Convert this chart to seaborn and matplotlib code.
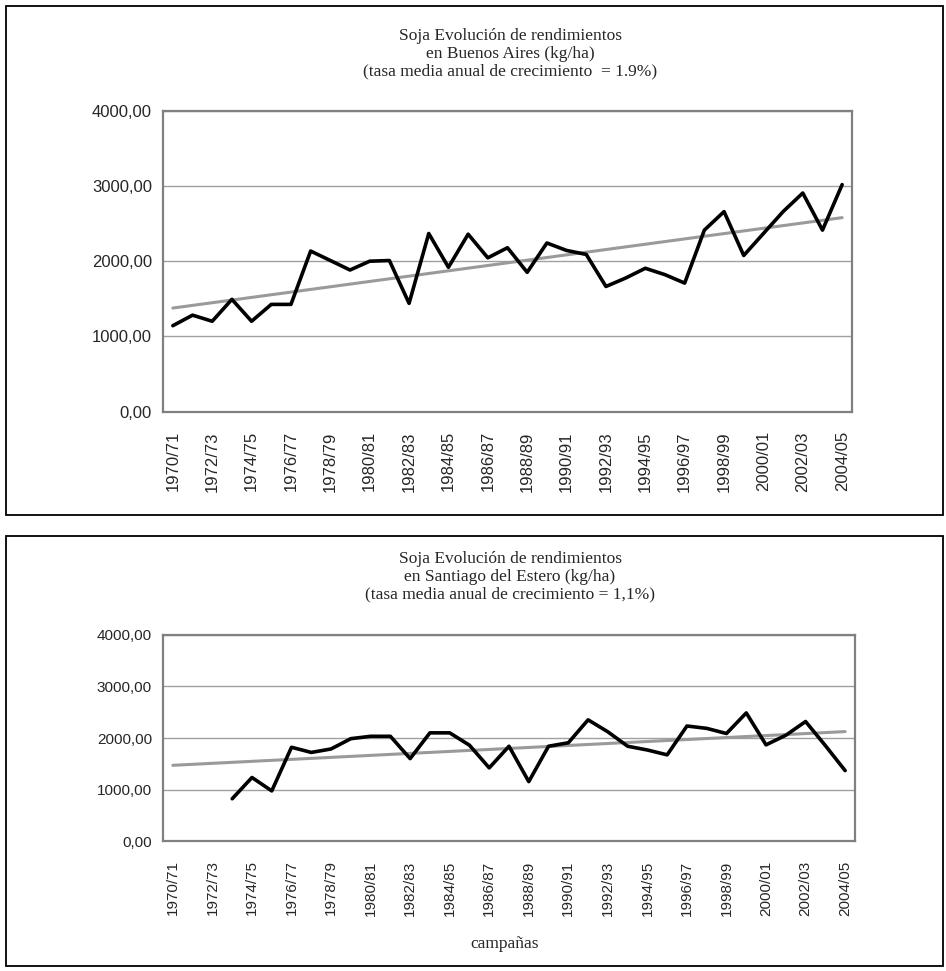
import numpy as np
import pandas as pd
import seaborn as sns
import matplotlib.pyplot as plt
from matplotlib.patches import Rectangle
from matplotlib.ticker import FuncFormatter, FixedLocator

# campañas 1970/71 .. 2004/05
campanas = ["%d/%02d" % (y, (y + 1) % 100) for y in range(1970, 2005)]

# rendimientos soja Buenos Aires (kg/ha)
bsas = [1143, 1283, 1202, 1493, 1202, 1426, 1426, 2135, 2009, 1883,
        2000, 2009, 1440, 2368, 1919, 2359, 2045, 2179, 1852, 2242,
        2143, 2090, 1664, 1776, 1906, 1821, 1709, 2413, 2659, 2076,
        2368, 2659, 2906, 2413, 3018]

# rendimientos soja Santiago del Estero (kg/ha), sin datos hasta 1973/74
sgo = [np.nan, np.nan, np.nan, 820, 1233, 973, 1820, 1720, 1787, 1987,
       2033, 2033, 1600, 2100, 2100, 1860, 1420, 1840, 1153, 1840,
       1907, 2353, 2120, 1840, 1767, 1673, 2233, 2187, 2087, 2487,
       1867, 2053, 2320, 1853, 1367]

titulos = [
    "Soja Evolución de rendimientos\nen Buenos Aires (kg/ha)\n(tasa media anual de crecimiento  = 1.9%)",
    "Soja Evolución de rendimientos\nen Santiago del Estero (kg/ha)\n(tasa media anual de crecimiento = 1,1%)",
]

sns.set_style("white")
plt.rcParams['font.family'] = ['Liberation Sans', 'DejaVu Sans']

W, H = 946, 971
fig = plt.figure(figsize=(W / 100, H / 100), dpi=100)


def fx(px):
    return px / W


def fy(py):
    return 1 - py / H


def box(x0, y0, x1, y1):
    fig.patches.append(Rectangle((fx(x0), fy(y1)), fx(x1) - fx(x0), fy(y0) - fy(y1),
                                 transform=fig.transFigure, fill=False,
                                 edgecolor="black", linewidth=1.3))


def panel(ax, valores, tick_size, xlabel_size):
    df = pd.DataFrame({"x": np.arange(len(campanas)), "y": valores})
    ok = df.dropna()
    # linea de tendencia lineal (como en Excel)
    m, b = np.polyfit(ok["x"], ok["y"], 1)
    df["trend"] = m * df["x"] + b
    sns.lineplot(data=df, x="x", y="trend", ax=ax, color="#9a9a9a", linewidth=2.2)
    sns.lineplot(data=df, x="x", y="y", ax=ax, color="black", linewidth=2.6)
    ax.set_xlim(-0.5, len(campanas) - 0.5)
    ax.set_ylim(0, 4000)
    ax.set_yticks([0, 1000, 2000, 3000, 4000])
    ax.yaxis.set_major_formatter(FuncFormatter(lambda v, p: ("%.2f" % v).replace(".", ",")))
    ax.set_xticks(np.arange(0, len(campanas), 2))
    ax.set_xticklabels(campanas[::2], rotation=90)
    ax.xaxis.set_minor_locator(FixedLocator(np.arange(-0.5, len(campanas), 1)))
    ax.tick_params(axis="x", which="major", length=0, labelsize=xlabel_size, pad=14)
    ax.tick_params(axis="x", which="minor", length=4, width=1, color="#808080", direction="out")
    ax.tick_params(axis="y", length=5, width=1, color="#808080", direction="out",
                   labelsize=tick_size, pad=3)
    ax.grid(axis="y", color="#a0a0a0", linewidth=1)
    for s in ax.spines.values():
        s.set_color("#808080")
        s.set_linewidth(1.6)
    ax.set_xlabel("")
    ax.set_ylabel("")


# panel superior
box(6, 6, 943, 515)
ax1 = fig.add_axes([fx(163), fy(411.7), fx(852) - fx(163), fy(110.7) - fy(411.7)])
panel(ax1, bsas, 12, 12)
fig.text(fx(510), fy(28), titulos[0], ha="center", va="top", family="Liberation Serif",
         fontsize=12.5, linespacing=1.15)

# panel inferior
box(6, 536, 943, 966)
ax2 = fig.add_axes([fx(163), fy(841), fx(855) - fx(163), fy(635) - fy(841)])
panel(ax2, sgo, 11, 11)
fig.text(fx(510), fy(551), titulos[1], ha="center", va="top", family="Liberation Serif",
         fontsize=12.5, linespacing=1.15)
fig.text(fx(505), fy(944), "campañas", ha="center", va="center", family="Liberation Serif",
         fontsize=12.5)

fig.savefig("out.png", dpi=100)
